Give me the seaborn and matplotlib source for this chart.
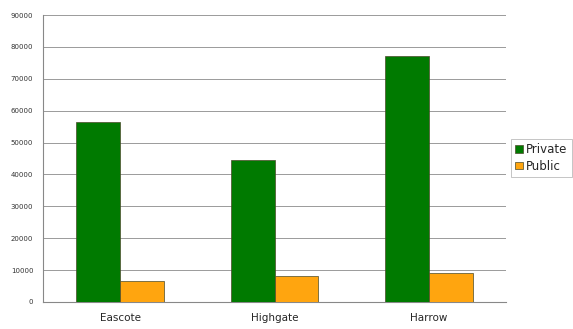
import pandas as pd
import matplotlib.pyplot as plt
import seaborn as sns

# values
areas = ["Eascote", "Highgate", "Harrow"]
private = [56500, 44500, 77000]
public = [6700, 8000, 9000]
series = ["Private", "Public"]
colors = {"Private": "#007a00", "Public": "#ffa50f"}

df = pd.DataFrame({
    "area": areas * 2,
    "value": private + public,
    "type": ["Private"] * len(areas) + ["Public"] * len(areas),
})

sns.set_style("white")
plt.rcParams["font.family"] = ["DejaVu Sans"]

fig = plt.figure(figsize=(5.73, 3.29), dpi=100)
ax = fig.add_axes([43 / 573, 1 - 302 / 329, 463 / 573, 287 / 329])

sns.barplot(data=df, x="area", y="value", hue="type", hue_order=series,
            palette=colors, width=0.57, gap=0, edgecolor="#4a4a2a",
            linewidth=0.5, saturation=1, ax=ax, zorder=3)

ax.set_ylim(0, 90000)
ax.set_xlim(-0.5, 2.5)
ax.set_yticks(range(0, 90001, 10000))
ax.yaxis.grid(True, color="#9a9a9a", linewidth=0.7, zorder=0)
ax.set_axisbelow(True)
ax.set_xlabel("")
ax.set_ylabel("")

for side in ("top", "right"):
    ax.spines[side].set_visible(False)
for side in ("left", "bottom"):
    ax.spines[side].set_color("#888888")
    ax.spines[side].set_linewidth(0.8)

ax.tick_params(axis="y", labelsize=5, colors="#333333", length=3,
               width=0.6, pad=4, color="#888888")
ax.tick_params(axis="x", labelsize=7.5, length=0, pad=8)
# minor ticks at category boundaries
ax.set_xticks([0.5, 1.5, 2.5], minor=True)
ax.tick_params(axis="x", which="minor", length=3, width=0.6, color="#888888")

handles, labels = ax.get_legend_handles_labels()
leg = ax.legend(handles, labels, loc="upper left",
                bbox_to_anchor=(511 / 573, 1 - 139 / 329),
                bbox_transform=fig.transFigure, frameon=True, fancybox=False,
                fontsize=8.5, handlelength=0.65, handleheight=0.65,
                handletextpad=0.3, borderpad=0.35, labelspacing=0.3,
                borderaxespad=0)
leg.get_frame().set_edgecolor("#aaaaaa")
leg.get_frame().set_linewidth(0.6)

fig.savefig("out.png", dpi=100)
